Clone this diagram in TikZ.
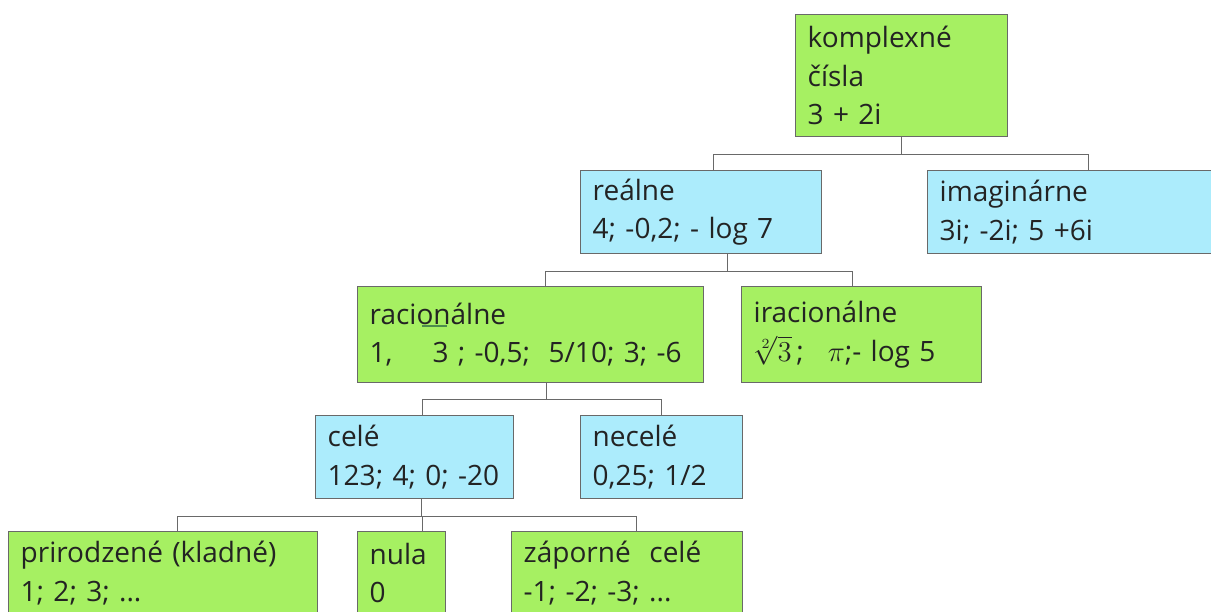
\documentclass[tikz,border=0pt]{standalone}
\usepackage{fontspec}
\setmainfont{Open Sans}
\definecolor{boxgreen}{RGB}{166,240,98}
\definecolor{boxblue}{RGB}{172,236,252}
\definecolor{edgegray}{RGB}{105,105,105}
\definecolor{textgray}{RGB}{35,35,35}
\tikzset{
  numbox/.style={draw=edgegray, line width=0.7pt, anchor=north west,
    inner xsep=6pt, inner ysep=0pt, align=left, text=textgray,
    font=\fontsize{14}{19.25}\selectfont},
  gbox/.style={numbox, fill=boxgreen},
  bbox/.style={numbox, fill=boxblue},
  conn/.style={draw=edgegray, line width=0.6pt}
}
\begin{document}
\begin{tikzpicture}[x=0.5pt, y=-0.5pt]
  \useasboundingbox (0,0) rectangle (1211,611);
  \clip (0,0) rectangle (1211,611);

  % Level 0
  \node[gbox, minimum width=106pt, minimum height=61pt, text width=94pt] (komp) at (795,14)
    {komplexné\\čísla\\3 + 2i};

  % Level 1
  \node[bbox, minimum width=120.5pt, minimum height=41.5pt, text width=108.5pt] (real) at (580,170)
    {reálne\\4; -0,2; - log 7};
  \node[bbox, minimum width=145pt, minimum height=41.5pt, text width=133pt] (imag) at (927,170)
    {imaginárne\\3i; -2i; 5 +6i};

  % Level 2
  \node[gbox, minimum width=173pt, minimum height=48pt, text width=161pt] (rac) at (357,286)
    {racionálne\\1,\hspace{20pt}3 ; -0,5;\ \ 5/10; 3; -6};
  \node[gbox, minimum width=120pt, minimum height=48pt, text width=108pt] (irac) at (741,286)
    {iracionálne\\$\sqrt[2]{3}$\,;\hspace{12pt}$\pi$;- log 5};
  \draw[line width=0.8pt, green!35!black!70] (422,326) -- (447,326);

  % Level 3
  \node[bbox, minimum width=99pt, minimum height=41.5pt, text width=87pt] (cele) at (315,415)
    {celé\\123; 4; 0; -20};
  \node[bbox, minimum width=81pt, minimum height=41.5pt, text width=69pt] (necele) at (580,415)
    {necelé\\0,25; 1/2};

  % Level 4
  \node[gbox, minimum width=154.5pt, minimum height=41.5pt, text width=142.5pt] (prir) at (8,531)
    {prirodzené (kladné)\\1; 2; 3; ...};
  \node[gbox, minimum width=44pt, minimum height=41.5pt, text width=32pt] (nula) at (357,531)
    {nula\\0};
  \node[gbox, minimum width=115.5pt, minimum height=41.5pt, text width=103.5pt] (zap) at (511,531)
    {záporné\ \ celé\\-1; -2; -3; ...};

  % Connectors
  \draw[conn] (komp.south) -- ++(0,17) -| ([xshift=6.25pt]real.north);
  \draw[conn] (komp.south) -- ++(0,17) -| ([xshift=8pt]imag.north);

  \draw[conn] ([xshift=13.25pt]real.south) -- ++(0,17) -| ([xshift=7.5pt]rac.north);
  \draw[conn] ([xshift=13.25pt]real.south) -- ++(0,17) -| ([xshift=-4.5pt]irac.north);

  \draw[conn] ([xshift=8pt]rac.south) -- ++(0,16) -| ([xshift=4pt]cele.north);
  \draw[conn] ([xshift=8pt]rac.south) -- ++(0,16) -| (necele.north);

  \draw[conn] ([xshift=3.5pt]cele.south) -- ++(0,17) -| ([xshift=7.25pt]prir.north);
  \draw[conn] ([xshift=3.5pt]cele.south) -- ++(0,17) -| ([xshift=10.5pt]nula.north);
  \draw[conn] ([xshift=3.5pt]cele.south) -- ++(0,17) -| ([xshift=4.75pt]zap.north);
\end{tikzpicture}
\end{document}
